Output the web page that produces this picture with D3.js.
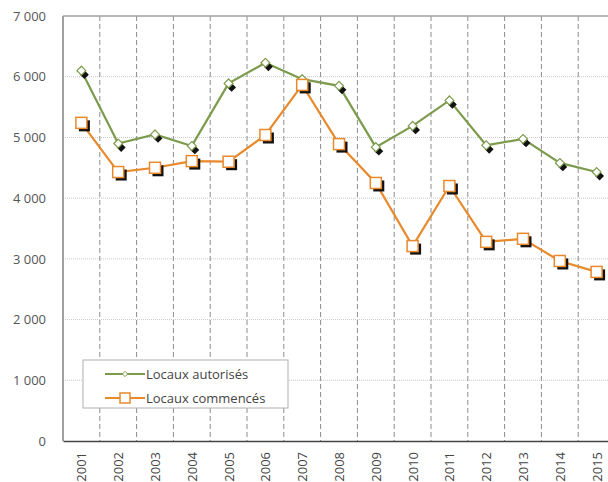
<!DOCTYPE html>
<html>
<head>
<meta charset="utf-8">
<script src="https://cdn.jsdelivr.net/npm/d3@7"></script>
<style>
  html, body { margin: 0; padding: 0; background: #fff; }
  svg { display: block; font-family: 'Open Sans', sans-serif; }
</style>
</head>
<body>
<svg id="chart"></svg>
<script>
const years = ['2001', '2002', '2003', '2004', '2005', '2006', '2007', '2008',
  '2009', '2010', '2011', '2012', '2013', '2014', '2015'];
const autorises = [6100, 4900, 5050, 4860, 5890, 6230, 5960, 5850, 4840, 5190, 5610, 4870, 4975, 4580, 4430];
const commences = [5240, 4430, 4500, 4610, 4600, 5040, 5865, 4890, 4250, 3210, 4200, 3280, 3330, 2965, 2785];
const yTicks = [0, 1000, 2000, 3000, 4000, 5000, 6000, 7000];
const seriesNames = ['Locaux autorisés', 'Locaux commencés'];

const width = 608;
const height = 482;
const margin = { top: 16, left: 63, bottom: 41 };
// the plot runs past the right edge of the picture
const plotRight = 615;

const svg = d3.select('#chart').attr('width', width).attr('height', height);

const x = d3.scaleBand().domain(years).range([margin.left, plotRight]);
const y = d3.scaleLinear().domain([0, 7000]).range([height - margin.bottom, margin.top]);

const fmt = v => d3.format(',')(v).replace(/,/g, ' ');

// horizontal grid
svg.append('g')
  .selectAll('line')
  .data(yTicks.filter(d => d > 0 && d < 7000))
  .enter()
  .append('line')
  .attr('x1', margin.left)
  .attr('x2', plotRight)
  .attr('y1', d => y(d))
  .attr('y2', d => y(d))
  .attr('stroke', '#c8c8c8')
  .attr('stroke-width', 1)
  .attr('stroke-dasharray', '1,1');

// vertical dashed separators between years
svg.append('g')
  .selectAll('line')
  .data(years.slice(1))
  .enter()
  .append('line')
  .attr('x1', d => x(d))
  .attr('x2', d => x(d))
  .attr('y1', margin.top)
  .attr('y2', y(0))
  .attr('stroke', '#8c8c8c')
  .attr('stroke-width', 1)
  .attr('stroke-dasharray', '5,3');

// frame: top and left in gray
svg.append('line')
  .attr('x1', margin.left).attr('x2', plotRight)
  .attr('y1', margin.top).attr('y2', margin.top)
  .attr('stroke', '#a0a0a0').attr('stroke-width', 1.5);
svg.append('line')
  .attr('x1', margin.left).attr('x2', margin.left)
  .attr('y1', margin.top).attr('y2', y(0))
  .attr('stroke', '#a0a0a0').attr('stroke-width', 2);

// y axis labels
const yAxis = d3.axisLeft(y).tickValues(yTicks).tickFormat(fmt).tickSize(0).tickPadding(17);
const gy = svg.append('g').attr('transform', `translate(${margin.left},0)`).call(yAxis);
gy.select('.domain').remove();
gy.selectAll('text').attr('fill', '#555').style('font-size', '13px').style('font-family', "'Open Sans', sans-serif");

// x axis
const xAxis = d3.axisBottom(x).tickSize(0).tickPadding(0);
const gx = svg.append('g').attr('transform', `translate(0,${y(0)})`).call(xAxis);
gx.select('.domain').attr('stroke', '#444').attr('stroke-width', 1.5);
gx.selectAll('text')
  .attr('fill', '#444')
  .style('font-size', '13px')
  .style('font-family', "'Open Sans', sans-serif")
  .attr('text-anchor', 'end')
  .attr('transform', 'translate(5,11) rotate(-90)')
  .attr('x', 0)
  .attr('y', 0)
  .attr('dy', 0);

const cx = d => x(d) + x.bandwidth() / 2;
const line = d3.line().x(d => cx(d.year)).y(d => y(d.value));

function drawSeries(values, color, shape) {
  const pts = years.map((yr, i) => ({ year: yr, value: values[i] }));
  svg.append('path')
    .datum(pts)
    .attr('d', line)
    .attr('fill', 'none')
    .attr('stroke', color)
    .attr('stroke-width', 2.2);

  const g = svg.append('g');
  if (shape === 'diamond') {
    const dia = d3.symbol().type(d3.symbolDiamond2).size(50);
    g.selectAll('.shadow').data(pts).enter().append('path')
      .attr('d', dia)
      .attr('transform', d => `translate(${cx(d.year) + 3},${y(d.value) + 4})`)
      .attr('fill', '#111');
    g.selectAll('.mark').data(pts).enter().append('path')
      .attr('d', dia)
      .attr('transform', d => `translate(${cx(d.year)},${y(d.value)})`)
      .attr('fill', '#fff')
      .attr('stroke', color)
      .attr('stroke-width', 1.2);
  } else {
    const s = 11;
    g.selectAll('.shadow').data(pts).enter().append('rect')
      .attr('x', d => cx(d.year) - s / 2 + 3)
      .attr('y', d => y(d.value) - s / 2 + 3)
      .attr('width', s).attr('height', s)
      .attr('fill', '#111');
    g.selectAll('.mark').data(pts).enter().append('rect')
      .attr('x', d => cx(d.year) - s / 2)
      .attr('y', d => y(d.value) - s / 2)
      .attr('width', s).attr('height', s)
      .attr('fill', '#fff')
      .attr('stroke', color)
      .attr('stroke-width', 1.5);
  }
}

const GREEN = '#7d9b4c';
const ORANGE = '#e8892c';
drawSeries(autorises, GREEN, 'diamond');
drawSeries(commences, ORANGE, 'square');

// legend
const legend = svg.append('g').attr('transform', 'translate(83,360)');
legend.append('rect')
  .attr('width', 205).attr('height', 48)
  .attr('fill', '#fff').attr('stroke', '#b0b0b0').attr('stroke-width', 1);
const items = [
  { name: seriesNames[0], color: GREEN, shape: 'diamond' },
  { name: seriesNames[1], color: ORANGE, shape: 'square' },
];
items.forEach((it, i) => {
  const yy = 14 + i * 24;
  legend.append('line')
    .attr('x1', 22).attr('x2', 62).attr('y1', yy).attr('y2', yy)
    .attr('stroke', it.color).attr('stroke-width', 2.2);
  if (it.shape === 'diamond') {
    legend.append('path')
      .attr('d', d3.symbol().type(d3.symbolDiamond2).size(18))
      .attr('transform', `translate(42,${yy})`)
      .attr('fill', '#fff').attr('stroke', it.color).attr('stroke-width', 1);
  } else {
    legend.append('rect')
      .attr('x', 37).attr('y', yy - 5).attr('width', 10).attr('height', 10)
      .attr('fill', '#fff').attr('stroke', it.color).attr('stroke-width', 1.5);
  }
  legend.append('text')
    .attr('x', 63).attr('y', yy + 4.5)
    .attr('fill', '#444')
    .style('font-size', '13px')
    .text(it.name);
});
</script>
</body>
</html>
